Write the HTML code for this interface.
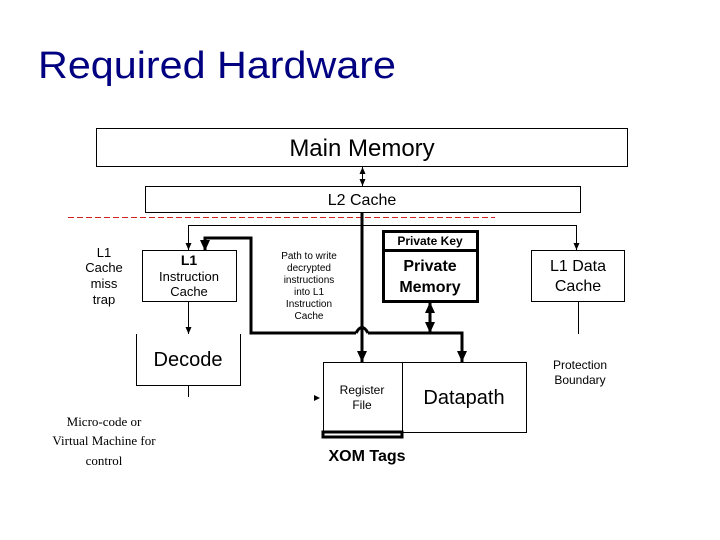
<!DOCTYPE html>
<html><head><meta charset="utf-8"><style>
html,body{margin:0;padding:0;background:#fff}
svg{display:block}
text{font-family:"Liberation Sans",sans-serif}
</style></head><body>
<svg width="720" height="540" viewBox="0 0 720 540" xmlns="http://www.w3.org/2000/svg">
<defs>
<marker id="a" markerWidth="8" markerHeight="8" refX="7" refY="4" orient="auto-start-reverse" markerUnits="userSpaceOnUse"><path d="M0,1 L7,4 L0,7 z" fill="#000"/></marker>
<marker id="b" markerWidth="12" markerHeight="12" refX="11" refY="6" orient="auto-start-reverse" markerUnits="userSpaceOnUse"><path d="M0,1 L11,6 L0,11 z" fill="#000"/></marker>
</defs>
<text x="38" y="78" font-size="38" fill="#000080" textLength="358" lengthAdjust="spacingAndGlyphs">Required Hardware</text>

<g fill="none" stroke="#000" stroke-width="1">
<rect x="96.5" y="128.5" width="531" height="38"/>
<rect x="145.5" y="186.5" width="435" height="26"/>
<rect x="142.5" y="250.5" width="94" height="51"/>
<rect x="531.5" y="250.5" width="93" height="51"/>
<polyline points="136.5,334 136.5,385.5 240.5,385.5 240.5,334"/>
<line x1="188.5" y1="385" x2="188.5" y2="397"/>
<rect x="323.5" y="362.5" width="79" height="70"/>
<rect x="402.5" y="362.5" width="124" height="70"/>
<line x1="578.5" y1="301" x2="578.5" y2="334"/>
<polyline points="188.5,250 188.5,225.5 576.5,225.5 576.5,250" marker-end="url(#a)"/>
<line x1="188.5" y1="230" x2="188.5" y2="250" marker-end="url(#a)"/>
<line x1="188.5" y1="301" x2="188.5" y2="334" marker-end="url(#a)"/>
<line x1="362.5" y1="167" x2="362.5" y2="186" marker-start="url(#a)" marker-end="url(#a)"/>
</g>
<line x1="68" y1="217.5" x2="495" y2="217.5" stroke="#d02020" stroke-width="1" stroke-dasharray="6,3"/>
<g fill="none" stroke="#000" stroke-width="3">
<rect x="383.5" y="231.5" width="94" height="70"/>
<line x1="383" y1="250.5" x2="477" y2="250.5"/>
<line x1="362" y1="212" x2="362" y2="362" marker-end="url(#b)"/>
<polyline points="205,250 205,238 251,238 251,333 356,333"/>
<line x1="205" y1="242" x2="205" y2="251" marker-end="url(#b)"/>
<path d="M356,333 Q362,322 368,333"/>
<polyline points="368,333 462,333 462,362" marker-end="url(#b)"/>
<line x1="430" y1="302" x2="430" y2="333" marker-start="url(#b)" marker-end="url(#b)"/>
<rect x="323" y="432" width="79" height="5"/>
</g>
<path d="M314,395 L320,398 L314,401 z" fill="#000"/>

<g text-anchor="middle" fill="#000">
<text x="362" y="156" font-size="24">Main Memory</text>
<text x="362" y="205" font-size="16">L2 Cache</text>
<text x="104" y="257" font-size="13">L1</text>
<text x="104" y="272" font-size="13">Cache</text>
<text x="104" y="288" font-size="13">miss</text>
<text x="104" y="304" font-size="13">trap</text>
<text x="189" y="265" font-size="14" font-weight="bold">L1</text>
<text x="189" y="281" font-size="13">Instruction</text>
<text x="189" y="296" font-size="13">Cache</text>
<text x="309" y="259" font-size="10">Path to write</text>
<text x="309" y="271" font-size="10">decrypted</text>
<text x="309" y="283" font-size="10">instructions</text>
<text x="309" y="295" font-size="10">into L1</text>
<text x="309" y="307" font-size="10">Instruction</text>
<text x="309" y="319" font-size="10">Cache</text>
<text x="430" y="245" font-size="12" font-weight="bold">Private Key</text>
<text x="430" y="271" font-size="16" font-weight="bold">Private</text>
<text x="430" y="292" font-size="16" font-weight="bold">Memory</text>
<text x="578" y="271" font-size="16">L1 Data</text>
<text x="578" y="291" font-size="16">Cache</text>
<text x="188" y="366" font-size="20">Decode</text>
<text x="580" y="369" font-size="12">Protection</text>
<text x="580" y="384" font-size="12">Boundary</text>
<text x="362" y="394" font-size="12">Register</text>
<text x="362" y="409" font-size="12">File</text>
<text x="464" y="404" font-size="20">Datapath</text>
<text x="367" y="461" font-size="16" font-weight="bold">XOM Tags</text>
<text x="104" y="426" font-size="13" style="font-family:'Liberation Serif',serif">Micro-code or</text>
<text x="104" y="445" font-size="13" style="font-family:'Liberation Serif',serif">Virtual Machine for</text>
<text x="104" y="465" font-size="13" style="font-family:'Liberation Serif',serif">control</text>
</g>
</svg>
</body></html>
